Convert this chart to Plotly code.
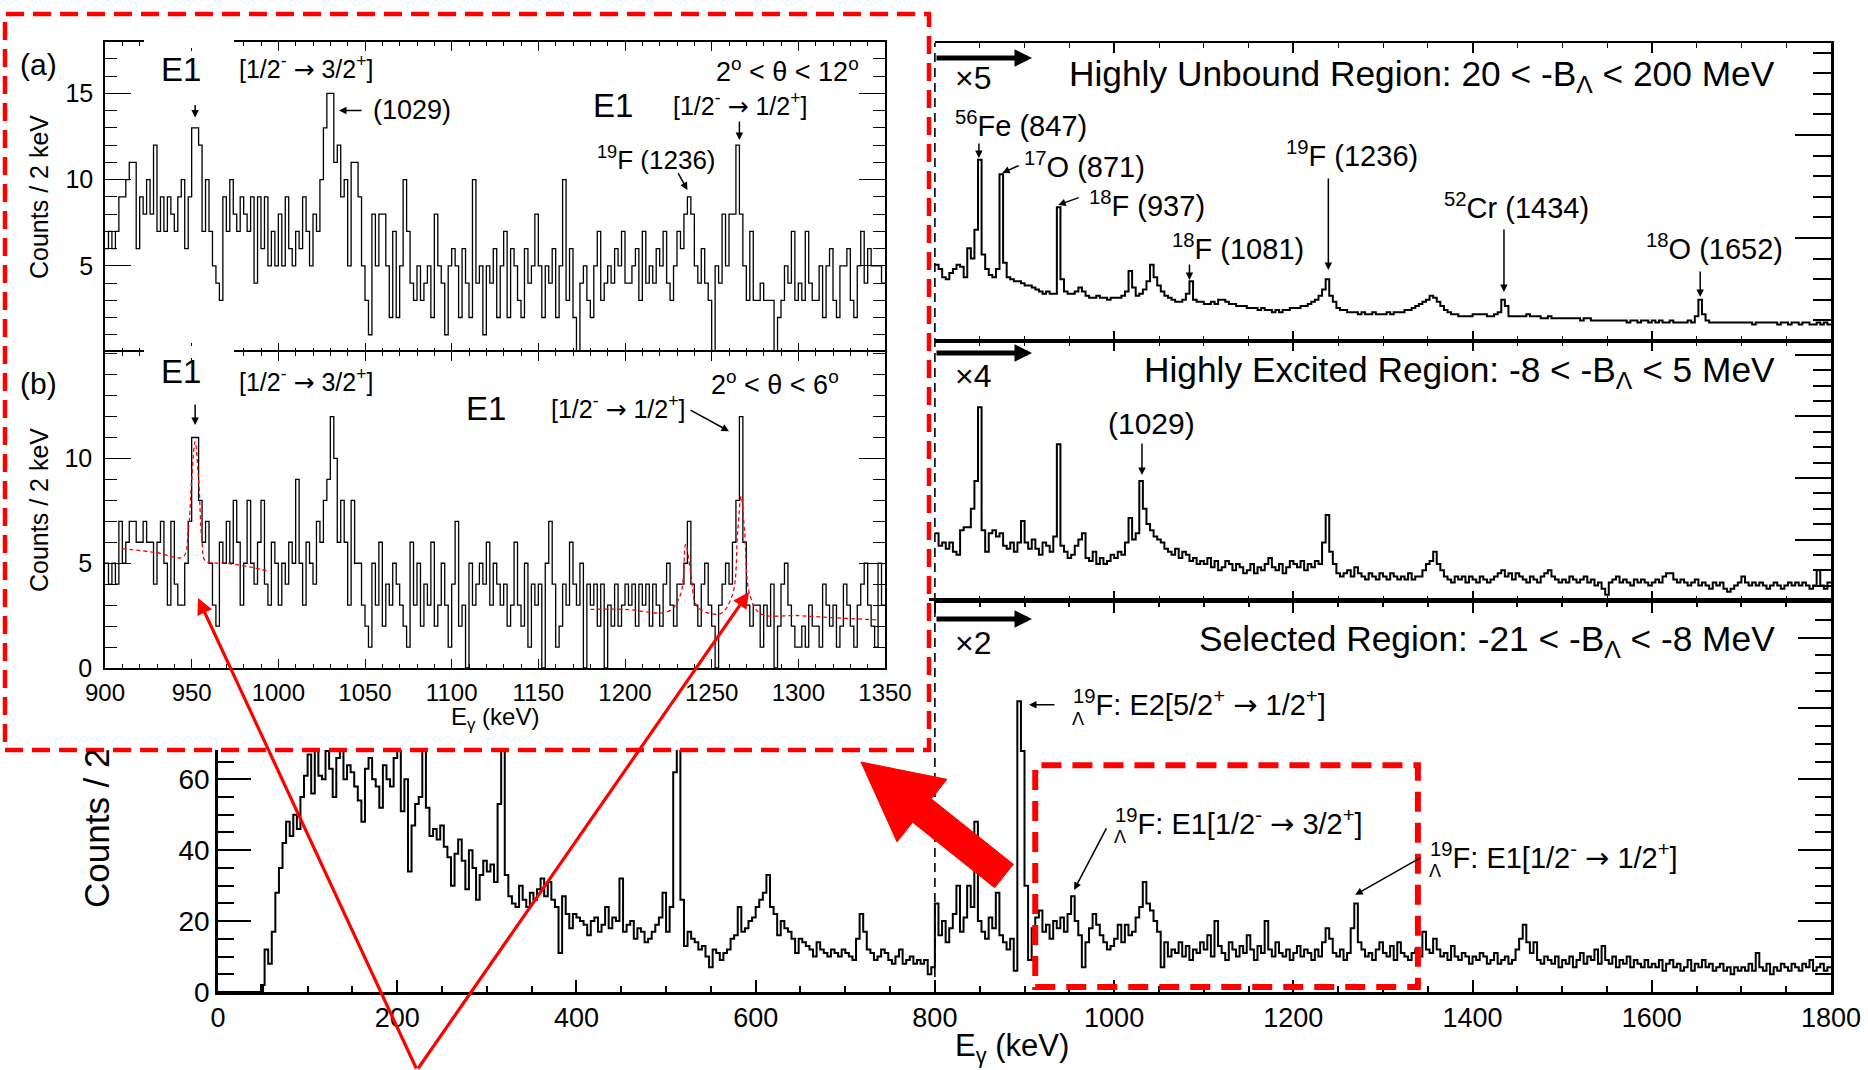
import plotly.graph_objects as go

W, H = 1868, 1070
FONT = "Liberation Sans, Arial, Helvetica, sans-serif"
AR = "<span style='font-family:DejaVu Sans'>→</span>"


def PX(X):
    return X / W


def PY(Y):
    return 1 - Y / H


# ---------------- data (counts per bin) ----------------
# Selected region spectrum, 4 keV bins from 0 to 1800 keV (counts / 2 keV)
main_start, main_width = 0, 4
main_counts = [
    0, 0, 0, 0, 0, 0, 0, 0, 0, 0, 0, 0, 2, 12, 8, 17, 28, 35, 42, 48, 44, 50, 46, 55, 61,
    67, 56, 72, 61, 60, 68, 63, 55, 66, 70, 60, 64, 62, 58, 54, 48, 63, 66, 60, 58, 52, 64, 60, 58, 66,
    70, 51, 60, 34, 47, 53, 55, 68, 52, 44, 46, 43, 47, 41, 38, 30, 39, 43, 37, 29, 40, 35, 26, 33, 37,
    34, 36, 31, 53, 78, 33, 27, 25, 24, 30, 26, 24, 28, 26, 29, 32, 27, 31, 26, 24, 11, 27, 22, 18, 22,
    21, 20, 19, 16, 20, 21, 17, 19, 24, 18, 21, 20, 32, 17, 19, 20, 15, 18, 17, 14, 15, 17, 19, 21, 28,
    17, 24, 62, 95, 26, 13, 17, 15, 14, 12, 13, 10, 7, 12, 11, 9, 11, 12, 15, 16, 24, 17, 18, 20, 21,
    24, 26, 28, 33, 24, 22, 16, 20, 18, 17, 15, 11, 15, 14, 13, 12, 10, 14, 12, 11, 10, 12, 11, 10, 12,
    11, 10, 9, 15, 22, 17, 12, 11, 9, 10, 12, 11, 9, 8, 10, 12, 8, 9, 10, 8, 9, 8, 9, 5, 7,
    25, 16, 20, 14, 18, 22, 30, 17, 21, 30, 24, 48, 20, 17, 15, 21, 18, 28, 16, 14, 12, 15, 6, 82, 68,
    30, 9, 18, 21, 23, 17, 19, 15, 20, 18, 21, 17, 22, 27, 20, 16, 7, 14, 18, 22, 19, 16, 14, 12, 13,
    15, 19, 14, 19, 16, 17, 21, 24, 31, 25, 23, 20, 17, 7, 14, 10, 12, 11, 14, 10, 13, 9, 12, 11, 14,
    12, 16, 10, 20, 13, 11, 9, 14, 12, 10, 13, 11, 16, 12, 9, 13, 11, 20, 12, 10, 14, 11, 10, 12, 9,
    11, 13, 10, 12, 11, 9, 12, 10, 14, 18, 15, 11, 10, 12, 9, 11, 18, 25, 14, 12, 10, 11, 9, 12, 14,
    11, 10, 13, 9, 14, 11, 10, 9, 11, 12, 10, 17, 12, 11, 15, 12, 10, 11, 9, 13, 10, 9, 11, 10, 8,
    10, 9, 11, 10, 8, 9, 11, 8, 9, 10, 8, 9, 12, 15, 19, 14, 11, 14, 9, 8, 10, 9, 8, 10, 7,
    9, 8, 10, 7, 9, 11, 8, 10, 9, 12, 8, 13, 9, 8, 10, 7, 9, 8, 10, 7, 9, 8, 7, 9, 7,
    8, 7, 9, 6, 8, 9, 7, 8, 6, 7, 9, 6, 8, 7, 9, 7, 8, 6, 7, 8, 6, 7, 5, 7, 6,
    7, 6, 8, 6, 11, 7, 6, 8, 5, 7, 6, 8, 7, 6, 8, 7, 6, 8, 7, 9, 6, 7, 8, 6, 7,
]

# Highly unbound region (x5), 4 keV bins from 800 keV, arbitrary units
unbound_start, unbound_width = 800, 4
unbound_counts = [
    37, 35, 31, 30, 33, 35, 37, 36, 31, 45, 40, 54, 88, 42, 35, 32, 31, 35, 81, 38, 31, 30, 29, 29, 28,
    27, 27, 26, 25, 24, 23, 24, 23, 23, 65, 30, 24, 23, 23, 24, 26, 24, 22, 21, 21, 22, 21, 21, 20, 21,
    21, 21, 22, 24, 34, 26, 22, 23, 25, 29, 37, 31, 27, 24, 22, 21, 20, 19, 19, 20, 23, 29, 20, 19, 19,
    18, 18, 19, 18, 20, 20, 19, 18, 18, 17, 17, 17, 16, 16, 16, 15, 16, 15, 15, 14, 15, 14, 15, 15, 16,
    16, 16, 17, 17, 18, 19, 20, 22, 25, 30, 22, 19, 16, 15, 15, 14, 14, 14, 13, 14, 13, 13, 14, 13, 13,
    13, 14, 13, 14, 14, 14, 15, 15, 16, 17, 18, 19, 20, 22, 21, 19, 17, 15, 14, 13, 13, 12, 12, 12, 12,
    13, 13, 13, 13, 12, 12, 13, 14, 20, 17, 12, 12, 12, 12, 12, 13, 12, 12, 12, 11, 11, 12, 11, 11, 11,
    11, 11, 11, 11, 11, 10, 11, 11, 10, 10, 10, 10, 10, 10, 10, 10, 10, 10, 9, 10, 10, 9, 10, 10, 9,
    10, 9, 10, 9, 9, 10, 9, 9, 9, 9, 10, 9, 12, 20, 13, 10, 9, 9, 9, 9, 9, 9, 9, 9, 9,
    9, 9, 9, 8, 9, 9, 9, 9, 9, 9, 8, 9, 9, 8, 9, 9, 8, 9, 9, 8, 8, 9, 8, 9, 8,
]

# Highly excited region (x4), 4 keV bins from 800 keV, arbitrary units
excited_start, excited_width = 800, 4
excited_counts = [
    22, 18, 19, 17, 19, 16, 15, 23, 24, 24, 30, 39, 63, 23, 16, 22, 23, 21, 22, 18, 17, 19, 16, 19, 26,
    19, 17, 20, 17, 15, 19, 18, 16, 21, 51, 18, 16, 14, 15, 18, 20, 22, 14, 13, 16, 12, 14, 12, 13, 15,
    14, 16, 15, 19, 27, 20, 22, 39, 30, 25, 23, 21, 20, 19, 17, 16, 15, 17, 14, 16, 15, 13, 14, 12, 13,
    12, 14, 11, 13, 10, 11, 13, 12, 10, 12, 11, 9, 10, 12, 9, 11, 10, 12, 14, 11, 10, 12, 9, 11, 13,
    12, 11, 13, 10, 12, 11, 13, 12, 19, 28, 16, 12, 9, 8, 9, 10, 8, 11, 9, 8, 7, 9, 8, 7, 9,
    8, 7, 9, 8, 7, 8, 7, 9, 7, 8, 8, 10, 12, 13, 16, 12, 10, 8, 7, 6, 8, 7, 8, 6, 8,
    7, 6, 8, 7, 6, 7, 8, 9, 10, 8, 9, 7, 9, 8, 7, 6, 8, 7, 6, 8, 9, 10, 8, 7, 6,
    7, 6, 8, 7, 6, 7, 8, 6, 7, 5, 6, 4, 2, 6, 7, 8, 6, 7, 6, 5, 7, 6, 7, 6, 5,
    6, 7, 6, 8, 9, 9, 7, 6, 7, 6, 5, 6, 7, 5, 6, 5, 4, 6, 5, 6, 4, 3, 4, 5, 6,
    8, 6, 5, 6, 5, 6, 5, 4, 5, 6, 5, 4, 5, 6, 5, 6, 5, 6, 5, 4, 5, 10, 5, 4, 6,
]

# Inset (a): 2 < theta < 12 deg, 2 keV bins from 900 keV
inset_start, inset_width = 900, 2
inset_a_counts = [
    6, 7, 6, 7, 9, 9, 10, 11, 11, 6, 9, 8, 10, 8, 12, 7, 9, 7, 9, 8, 7, 9, 10, 6, 9,
    13, 13, 12, 7, 10, 7, 5, 4, 3, 9, 7, 10, 8, 7, 9, 8, 7, 9, 4, 9, 6, 9, 5, 7, 5,
    8, 5, 9, 6, 5, 7, 6, 9, 7, 5, 8, 7, 10, 13, 15, 15, 11, 12, 9, 10, 5, 11, 11, 9, 5,
    3, 1, 8, 5, 8, 8, 5, 2, 7, 2, 5, 10, 7, 4, 3, 5, 3, 4, 5, 2, 8, 5, 4, 1, 5,
    6, 5, 2, 6, 4, 2, 10, 4, 5, 1, 5, 4, 6, 2, 5, 7, 2, 6, 5, 3, 2, 6, 4, 5, 8,
    5, 2, 5, 4, 6, 2, 5, 10, 3, 6, 2, 0, 4, 5, 3, 2, 5, 7, 3, 4, 5, 4, 6, 5, 7,
    4, 4, 5, 6, 3, 7, 4, 5, 4, 6, 5, 7, 4, 3, 5, 7, 6, 8, 9, 8, 5, 4, 6, 4, 3,
    0, 5, 4, 8, 5, 8, 8, 12, 8, 5, 3, 7, 3, 3, 4, 3, 3, 3, 0, 2, 3, 5, 4, 7, 3,
    4, 3, 7, 4, 3, 3, 5, 2, 5, 6, 3, 2, 5, 5, 6, 3, 2, 5, 7, 4, 6, 5, 5, 5, 4,
]

# Inset (b): 2 < theta < 6 deg, 2 keV bins from 900 keV
inset_b_counts = [
    5, 4, 5, 4, 7, 5, 6, 7, 7, 6, 6, 7, 6, 6, 4, 6, 7, 5, 3, 7, 4, 3, 3, 5, 7,
    11, 11, 8, 6, 7, 5, 3, 2, 6, 5, 7, 5, 8, 6, 3, 5, 8, 5, 4, 6, 8, 4, 3, 6, 5,
    3, 5, 4, 6, 5, 9, 5, 3, 6, 5, 4, 7, 6, 8, 9, 12, 10, 6, 8, 6, 3, 8, 5, 5, 3,
    2, 1, 5, 3, 6, 2, 4, 3, 5, 4, 3, 2, 1, 6, 3, 5, 2, 4, 3, 6, 2, 3, 5, 3, 1,
    4, 7, 2, 3, 0, 5, 3, 4, 5, 4, 6, 3, 5, 4, 3, 4, 2, 3, 6, 3, 2, 5, 1, 4, 3,
    4, 0, 5, 7, 4, 1, 2, 4, 3, 6, 4, 3, 5, 0, 4, 3, 4, 2, 4, 0, 3, 2, 4, 2, 3,
    4, 3, 4, 2, 4, 3, 4, 2, 4, 3, 2, 4, 5, 3, 2, 4, 4, 5, 7, 4, 3, 2, 4, 5, 3,
    2, 0, 3, 4, 5, 4, 6, 8, 12, 6, 3, 2, 3, 3, 1, 3, 2, 4, 0, 2, 4, 5, 3, 2, 1,
    1, 2, 1, 3, 2, 2, 1, 4, 3, 2, 3, 1, 2, 4, 3, 2, 1, 3, 4, 5, 3, 2, 1, 5, 3,
]

# Fit curves drawn in inset (b)
fit_low_keV = [910, 930, 945, 948, 950, 952, 954, 956, 958, 970, 985, 995]
fit_low_val = [5.7, 5.5, 5.3, 6.5, 9.0, 10.8, 9.0, 6.0, 5.1, 5.0, 4.8, 4.6]
fit_high_keV = [1180, 1200, 1225, 1232, 1235, 1238, 1242, 1255, 1262, 1265, 1267, 1269, 1272, 1278, 1300, 1320, 1345]
fit_high_val = [2.8, 2.8, 2.7, 3.5, 5.9, 4.5, 2.9, 2.6, 3.5, 6.5, 8.2, 6.5, 3.5, 2.6, 2.5, 2.4, 2.3]


def step(start, width, vals):
    xs = [start + width * i for i in range(len(vals) + 1)]
    ys = list(vals) + [vals[-1]]
    return xs, ys


fig = go.Figure()

mx, my = step(main_start, main_width, main_counts)
fig.add_trace(go.Scatter(x=mx, y=my, mode="lines", line=dict(shape="hv", color="black", width=2),
                         xaxis="x2", yaxis="y2", hoverinfo="skip"))
ux, uy = step(unbound_start, unbound_width, unbound_counts)
fig.add_trace(go.Scatter(x=ux, y=uy, mode="lines", line=dict(shape="hv", color="black", width=2),
                         xaxis="x3", yaxis="y3", hoverinfo="skip"))
ex, ey = step(excited_start, excited_width, excited_counts)
fig.add_trace(go.Scatter(x=ex, y=ey, mode="lines", line=dict(shape="hv", color="black", width=2),
                         xaxis="x4", yaxis="y4", hoverinfo="skip"))
# empty subplot whose white background hides the main spectrum behind the inset
fig.add_trace(go.Scatter(x=[None], y=[None], mode="lines", xaxis="x5", yaxis="y5", hoverinfo="skip"))
ax_, ay_ = step(inset_start, inset_width, inset_a_counts)
fig.add_trace(go.Scatter(x=ax_, y=ay_, mode="lines", line=dict(shape="hv", color="black", width=1.3),
                         xaxis="x6", yaxis="y6", hoverinfo="skip"))
bx_, by_ = step(inset_start, inset_width, inset_b_counts)
fig.add_trace(go.Scatter(x=bx_, y=by_, mode="lines", line=dict(shape="hv", color="black", width=1.3),
                         xaxis="x7", yaxis="y7", hoverinfo="skip"))
for fx, fy in ((fit_low_keV, fit_low_val), (fit_high_keV, fit_high_val)):
    fig.add_trace(go.Scatter(x=fx, y=fy, mode="lines", line=dict(shape="spline", color="red", width=1.3, dash="4px,3px"),
                             xaxis="x7", yaxis="y7", hoverinfo="skip"))

base = dict(showgrid=False, zeroline=False, linecolor="black", tickcolor="black", color="black",
            automargin=False)


def minor(dt, ln, w=1.2):
    return dict(dtick=dt, ticklen=ln, ticks="inside", tickcolor="black", tickwidth=w, showgrid=False)


layout = dict(
    template="none",
    width=W, height=H, margin=dict(l=0, r=0, t=0, b=0, pad=0, autoexpand=False),
    paper_bgcolor="white", plot_bgcolor="white", showlegend=False,
    font=dict(family=FONT, color="black"),
    # main (selected region)
    xaxis2=dict(base, domain=[PX(218), PX(1831)], anchor="y2", range=[0, 1800], tick0=0, dtick=200,
                ticks="inside", ticklen=12, tickwidth=2, showline=True, linewidth=2.5, mirror="ticks",
                minor=minor(50, 6, 1.5), tickfont=dict(size=27)),
    yaxis2=dict(base, domain=[PY(992), PY(601)], anchor="x2", range=[0, 110.3], tick0=0, dtick=20,
                ticks="inside", ticklen=33, tickwidth=2, showline=True, linewidth=2.5, mirror="ticks",
                minor=minor(5, 16, 1.5), tickfont=dict(size=28)),
    # top panel
    xaxis3=dict(base, domain=[PX(935), PX(1831)], anchor="y3", range=[800, 1800], tick0=0, dtick=200,
                ticks="inside", ticklen=10, tickwidth=2, showline=True, linewidth=1.5, mirror="ticks",
                minor=minor(50, 5), showticklabels=False),
    yaxis3=dict(base, domain=[PY(341), PY(43)], anchor="x3", side="right", range=[0, 144.7], dtick=50,
                ticks="inside", ticklen=36, tickwidth=2, showline=True, linewidth=2.5,
                minor=minor(10, 18, 1.5), showticklabels=False),
    # middle panel
    xaxis4=dict(base, domain=[PX(935), PX(1831)], anchor="y4", range=[800, 1800], tick0=0, dtick=200,
                ticks="inside", ticklen=10, tickwidth=2, showline=True, linewidth=1.5, mirror="ticks",
                minor=minor(50, 5), showticklabels=False),
    yaxis4=dict(base, domain=[PY(601), PY(341)], anchor="x4", side="right", range=[0, 84.55], dtick=20,
                ticks="inside", ticklen=36, tickwidth=2, showline=True, linewidth=2.5,
                minor=minor(5, 18, 1.5), showticklabels=False),
    # blank cover for inset
    xaxis5=dict(base, domain=[PX(5), PX(929)], anchor="y5", range=[0, 1], showline=False,
                showticklabels=False, ticks=""),
    yaxis5=dict(base, domain=[PY(750), PY(14)], anchor="x5", range=[0, 1], showline=False,
                showticklabels=False, ticks=""),
    # inset (a)
    xaxis6=dict(base, domain=[PX(105), PX(885)], anchor="y6", range=[900, 1350], tick0=900, dtick=50,
                ticks="inside", ticklen=9, tickwidth=1.3, showline=True, linewidth=1.5, mirror="ticks",
                minor=minor(10, 4, 1), showticklabels=False),
    yaxis6=dict(base, domain=[PY(352), PY(42)], anchor="x6", range=[0, 17.98], tickmode="array",
                tickvals=[5, 10, 15], ticks="inside", ticklen=26, tickwidth=1.3, showline=True, linewidth=1.5,
                mirror="ticks", minor=minor(1, 12, 1), tickfont=dict(size=25), ticklabelstandoff=5),
    # inset (b)
    xaxis7=dict(base, domain=[PX(105), PX(885)], anchor="y7", range=[900, 1350], tick0=900, dtick=50,
                ticks="inside", ticklen=9, tickwidth=1.3, showline=True, linewidth=1.5, mirror="ticks",
                minor=minor(10, 4, 1), tickfont=dict(size=24), ticklabelstandoff=2),
    yaxis7=dict(base, domain=[PY(668), PY(352)], anchor="x7", range=[0, 15.08], tickmode="array",
                tickvals=[0, 5, 10], ticks="inside", ticklen=26, tickwidth=1.3, showline=True, linewidth=1.5,
                mirror="ticks", minor=minor(1, 12, 1), tickfont=dict(size=25), ticklabelstandoff=6),
)
fig.update_layout(**layout)

ann = []


def txt(X, Y, s, size, xanchor="center", yanchor="middle", angle=0, color="black"):
    ann.append(dict(x=PX(X), y=PY(Y), xref="paper", yref="paper", text=s, showarrow=False,
                    font=dict(size=size, color=color, family=FONT), xanchor=xanchor, yanchor=yanchor,
                    textangle=angle))


def arr(xv, yv, xr, yr, ax, ay, color="black", width=1.5, head=2, size=1.0):
    ann.append(dict(x=xv, y=yv, xref=xr, yref=yr, ax=ax, ay=ay, text="", showarrow=True,
                    arrowhead=head, arrowsize=size, arrowwidth=width, arrowcolor=color))


def parr(X, Y, tailX, tailY, color="black", width=1.5, head=2, size=1.0):
    arr(PX(X), PY(Y), "paper", "paper", tailX - X, tailY - Y, color, width, head, size)


# ---- inset (a)
txt(38, 64, "(a)", 30)
txt(181, 69, "E1", 33)
txt(306, 68, f"[1/2<sup>-</sup> {AR} 3/2<sup>+</sup>]", 25)
txt(787, 70, "2<sup>o</sup> < θ < 12<sup>o</sup>", 27)
arr(952, 13.6, "x6", "y6", 0, -14)
arr(1035, 14.0, "x6", "y6", 24, 0)
txt(412, 110, "(1029)", 27)
txt(613, 106, "E1", 33)
txt(740, 104, f"[1/2<sup>-</sup> {AR} 1/2<sup>+</sup>]", 25)
arr(1266, 12.3, "x6", "y6", 0, -20)
txt(656, 158, "<sup>19</sup>F (1236)", 26)
arr(1236, 9.4, "x6", "y6", -10, -18)
txt(39, 197, "Counts / 2 keV", 25, angle=-90)
# ---- inset (b)
txt(38, 383, "(b)", 30)
txt(181, 372, "E1", 33)
txt(306, 380, f"[1/2<sup>-</sup> {AR} 3/2<sup>+</sup>]", 25)
txt(775, 383, "2<sup>o</sup> < θ < 6<sup>o</sup>", 27)
arr(952, 11.6, "x7", "y7", 0, -22)
txt(486, 408, "E1", 33)
txt(618, 407, f"[1/2<sup>-</sup> {AR} 1/2<sup>+</sup>]", 25)
arr(1260, 11.3, "x7", "y7", -40, -22)
txt(39, 510, "Counts / 2 keV", 25, angle=-90)
txt(495, 718, "E<sub>γ</sub> (keV)", 24)

# ---- right panels
txt(973, 78, "×5", 32)
txt(973, 376, "×4", 32)
txt(973, 643, "×2", 32)
for yy in (58, 353, 619):
    parr(1032, yy, 935, yy, width=5, head=2, size=0.7)
txt(1777, 76, "Highly Unbound Region: 20 < -B<sub>Λ</sub> < 200 MeV", 35.3, xanchor="right")
txt(1777, 372, "Highly Excited Region: -8 < -B<sub>Λ</sub> < 5 MeV", 35.3, xanchor="right")
txt(1777, 641, "Selected Region: -21 < -B<sub>Λ</sub> < -8 MeV", 35.3, xanchor="right")

txt(1021, 124, "<sup>56</sup>Fe (847)", 29)
arr(849, 88.8, "x3", "y3", 0, -16)
txt(1084, 165, "<sup>17</sup>O (871)", 29)
arr(875, 81.6, "x3", "y3", 18, -8)
txt(1147, 204, "<sup>18</sup>F (937)", 29)
arr(937.5, 66, "x3", "y3", 22, -8)
txt(1238, 247, "<sup>18</sup>F (1081)", 29)
arr(1084, 29.6, "x3", "y3", 0, -17)
txt(1352, 154, "<sup>19</sup>F (1236)", 29)
arr(1239, 34.5, "x3", "y3", 0, -93)
txt(1516, 206, "<sup>52</sup>Cr (1434)", 29)
arr(1435, 23.8, "x3", "y3", 0, -64)
txt(1714, 247, "<sup>18</sup>O (1652)", 29)
arr(1654, 21.4, "x3", "y3", 0, -27)

txt(1151, 423, "(1029)", 30)
arr(1031, 41, "x4", "y4", 0, -33)

# ---- main panel
txt(1071, 703, f"<sup>19</sup>F: E2[5/2<sup>+</sup> {AR} 1/2<sup>+</sup>]", 29, xanchor="left")
txt(1078, 719, "Λ", 18)
arr(905, 81, "x2", "y2", 27, 0)
txt(1113, 822, f"<sup>19</sup>F: E1[1/2<sup>-</sup> {AR} 3/2<sup>+</sup>]", 29, xanchor="left")
txt(1120, 837, "Λ", 18)
arr(955.4, 28.8, "x2", "y2", 33, -63)
txt(1428, 856, f"<sup>19</sup>F: E1[1/2<sup>-</sup> {AR} 1/2<sup>+</sup>]", 29, xanchor="left")
txt(1435, 871, "Λ", 18)
arr(1269, 27.4, "x2", "y2", 67, -38)

txt(1012, 1048, "E<sub>γ</sub> (keV)", 31)
txt(96, 828, "Counts / 2", 35, angle=-90)

# ---- thin red pointer lines
parr(198, 598, 417, 1070, color="red", width=3.2, head=2, size=1.0)
parr(749, 592, 417, 1070, color="red", width=3.2, head=2, size=1.0)

fig.update_layout(annotations=ann)

# ---- shapes
shapes = []
# white gaps behind the E1 labels in the inset frame
for y0, y1 in ((36, 48), (346, 358)):
    shapes.append(dict(type="rect", xref="paper", yref="paper", x0=PX(144), x1=PX(234), y0=PY(y1), y1=PY(y0),
                       fillcolor="white", line=dict(width=0), layer="above"))
# dashed vertical line at 800 keV
shapes.append(dict(type="line", xref="x2", yref="paper", x0=800, x1=800, y0=PY(992), y1=PY(43),
                   line=dict(color="black", width=1.6, dash="9px,6px"), layer="above"))
# red dashed frame of the inset
shapes.append(dict(type="rect", xref="paper", yref="paper", x0=PX(5), x1=PX(929), y0=PY(750), y1=PY(14),
                   line=dict(color="red", width=4.5, dash="18px,9px"), layer="above"))
# red dashed box in the main panel
shapes.append(dict(type="rect", xref="x2", yref="y2", x0=912, x1=1339, y0=1.4, y1=64,
                   line=dict(color="red", width=6, dash="20px,11px"), layer="above"))
# big red arrow (polygon)
tip = (861.0, 762.0)
tail = (1004.0, 876.0)
dx, dy = tail[0] - tip[0], tail[1] - tip[1]
L = (dx * dx + dy * dy) ** 0.5
ux_, uy_ = dx / L, dy / L
nx_, ny_ = -uy_, ux_
hl, hw, bw = 78.0, 40.0, 15.0
bxc, byc = tip[0] + hl * ux_, tip[1] + hl * uy_
pts = [
    tip,
    (bxc - hw * nx_, byc - hw * ny_),
    (bxc - bw * nx_, byc - bw * ny_),
    (tail[0] - bw * nx_, tail[1] - bw * ny_),
    (tail[0] + bw * nx_, tail[1] + bw * ny_),
    (bxc + bw * nx_, byc + bw * ny_),
    (bxc + hw * nx_, byc + hw * ny_),
]
path = "M " + " L ".join(f"{PX(X):.5f},{PY(Y):.5f}" for X, Y in pts) + " Z"
shapes.append(dict(type="path", xref="paper", yref="paper", path=path, fillcolor="red",
                   line=dict(color="red", width=1), layer="above"))
fig.update_layout(shapes=shapes)

fig.write_html("out.html", config={"displayModeBar": False},
               post_script="document.body.style.margin='0';document.body.style.overflow='hidden';")
